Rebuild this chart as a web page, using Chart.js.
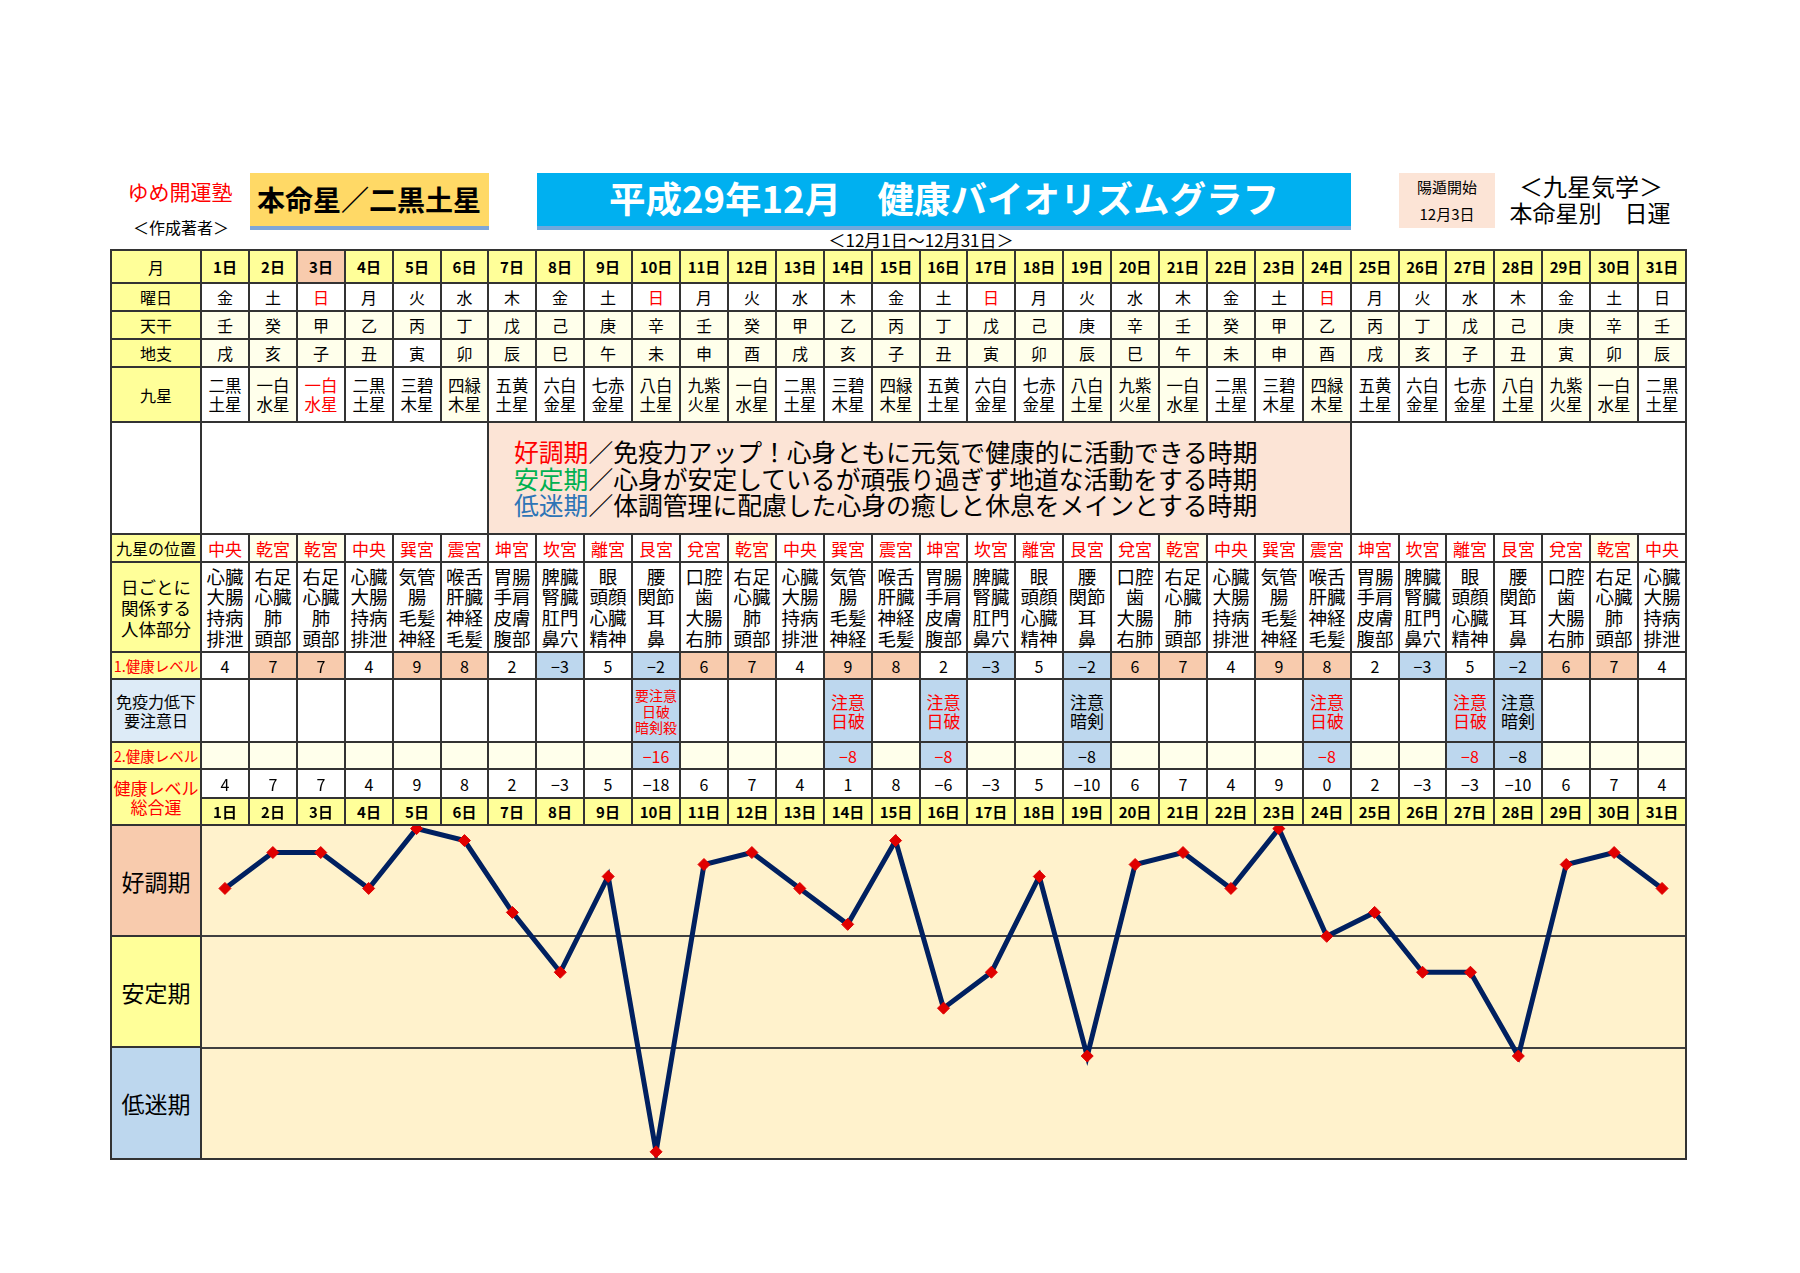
<!DOCTYPE html>
<html><head><meta charset="utf-8">
<script src="https://cdn.jsdelivr.net/npm/chart.js@4.4.1/dist/chart.umd.min.js"></script>
<style>
html,body{margin:0;padding:0;background:#fff;}
body{width:1800px;height:1273px;position:relative;overflow:hidden;font-family:"Noto Sans CJK JP","Noto Sans",sans-serif;color:#000;}
.c{position:absolute;box-sizing:border-box;border:2px solid #333;display:flex;align-items:center;justify-content:center;text-align:center;white-space:nowrap;overflow:hidden;}
.t{position:absolute;transform:translate(-50%,-50%);white-space:nowrap;line-height:1;}
.r{position:absolute;}
</style></head><body>
<canvas id="chart" width="1485" height="334" style="position:absolute;left:201px;top:825px;width:1485px;height:334px;background:#FFF2CC;"></canvas>
<script>
// ---------------- DATA ----------------
const days = ["1日","2日","3日","4日","5日","6日","7日","8日","9日","10日","11日","12日","13日","14日","15日","16日","17日","18日","19日","20日","21日","22日","23日","24日","25日","26日","27日","28日","29日","30日","31日"];
const weekdays = ["金","土","日","月","火","水","木","金","土","日","月","火","水","木","金","土","日","月","火","水","木","金","土","日","月","火","水","木","金","土","日"];
const redWeekdayDays = [3,10,17,24];
const stems = ["壬","癸","甲","乙","丙","丁","戊","己","庚","辛","壬","癸","甲","乙","丙","丁","戊","己","庚","辛","壬","癸","甲","乙","丙","丁","戊","己","庚","辛","壬"];
const branches = ["戌","亥","子","丑","寅","卯","辰","巳","午","未","申","酉","戌","亥","子","丑","寅","卯","辰","巳","午","未","申","酉","戌","亥","子","丑","寅","卯","辰"];
const stars = ["二黒土星","一白水星","一白水星","二黒土星","三碧木星","四緑木星","五黄土星","六白金星","七赤金星","八白土星","九紫火星","一白水星","二黒土星","三碧木星","四緑木星","五黄土星","六白金星","七赤金星","八白土星","九紫火星","一白水星","二黒土星","三碧木星","四緑木星","五黄土星","六白金星","七赤金星","八白土星","九紫火星","一白水星","二黒土星"];
const palaces = ["中央","乾宮","乾宮","中央","巽宮","震宮","坤宮","坎宮","離宮","艮宮","兌宮","乾宮","中央","巽宮","震宮","坤宮","坎宮","離宮","艮宮","兌宮","乾宮","中央","巽宮","震宮","坤宮","坎宮","離宮","艮宮","兌宮","乾宮","中央"];
const palaceBody = {
  "中央":["心臓","大腸","持病","排泄"],
  "乾宮":["右足","心臓","肺","頭部"],
  "巽宮":["気管","腸","毛髪","神経"],
  "震宮":["喉舌","肝臓","神経","毛髪"],
  "坤宮":["胃腸","手肩","皮膚","腹部"],
  "坎宮":["脾臓","腎臓","肛門","鼻穴"],
  "離宮":["眼","頭顔","心臓","精神"],
  "艮宮":["腰","関節","耳","鼻"],
  "兌宮":["口腔","歯","大腸","右肺"]
};
const level1 = [4,7,7,4,9,8,2,-3,5,-2,6,7,4,9,8,2,-3,5,-2,6,7,4,9,8,2,-3,5,-2,6,7,4];
const cautionText = {10:["要注意","日破","暗剣殺"],14:["注意","日破"],16:["注意","日破"],19:["注意","暗剣"],24:["注意","日破"],27:["注意","日破"],28:["注意","暗剣"]};
const cautionBlackDays = [19,28];
const level2 = [null,null,null,null,null,null,null,null,null,-16,null,null,null,-8,null,-8,null,null,-8,null,null,null,null,-8,null,null,-8,-8,null,null,null];
const total = [4,7,7,4,9,8,2,-3,5,-18,6,7,4,1,8,-6,-3,5,-10,6,7,4,9,0,2,-3,-3,-10,6,7,4];
const bandLabels = ["好調期","安定期","低迷期"];
const yTicks = [-18.6,-9.3,0,9.3];

// ---------------- LAYOUT ----------------
const X0=111, HX=201, XR=1686, CW=(XR-HX)/31;
const YEL='#FFFF99', CREAM='#FFFFEB', PEACH='#F8CBAD', LPEACH='#FCE4D6', BLUE='#BDD7EE', LBLUE='#DDEBF7', RED='#FF0000';
function el(cls, css, html){const d=document.createElement('div');d.className=cls;d.style.cssText=css;d.innerHTML=html||'';document.body.appendChild(d);return d;}
function cell(x1,y1,x2,y2,bg,html,css){
  return el('c',`left:${x1-1}px;top:${y1-1}px;width:${x2-x1+2}px;height:${y2-y1+2}px;background:${bg};`+(css||''),html);
}
function txt(cx,cy,text,css){return el('t',`left:${cx}px;top:${cy}px;`+(css||''),text);}
function colL(i){return Math.round(HX+i*CW);}
function colR(i){return Math.round(HX+(i+1)*CW);}
function fmt(v){return v<0?'−'+Math.abs(v):String(v);}
function lines(arr,fs,lh,color){return `<div style="font-size:${fs}px;line-height:${lh}px;color:${color||'#000'}">${arr.join('<br>')}</div>`;}

// ---------------- HEADER ----------------
txt(180,191,'ゆめ開運塾','font-size:21px;color:#FF0000;');
txt(181,227,'＜作成著者＞','font-size:16px;');
el('r','left:250px;top:173px;width:239px;height:53px;background:#FFD966;');
el('r','left:250px;top:226px;width:239px;height:4px;background:#7FA7D9;');
txt(369,199,'本命星／二黒土星','font-size:28px;font-weight:bold;');
el('r','left:537px;top:173px;width:814px;height:53px;background:#00B0F0;');
el('r','left:537px;top:226px;width:814px;height:4px;background:#6FA8DC;');
txt(944,198,'平成29年12月　健康バイオリズムグラフ','font-size:36.5px;font-weight:bold;color:#fff;');
txt(921,239,'＜12月1日～12月31日＞','font-size:17px;');
el('r','left:1399px;top:173px;width:96px;height:55px;background:#FCE4D6;');
txt(1447,186,'陽遁開始','font-size:15px;');
txt(1447,213,'12月3日','font-size:15px;');
txt(1591,186,'＜九星気学＞','font-size:24px;');
txt(1590,212,'本命星別　日運','font-size:23px;');

// ---------------- TABLE ----------------
const R = {month:[250,283], wd:[283,311], stem:[311,339], br:[339,367], star:[367,422], note:[422,534], pos:[534,562], body:[562,652], l1:[652,679], caut:[679,742], l2:[742,769], tot:[769,798], dl:[798,825]};
const hs='font-size:16px;';
cell(X0,R.month[0],HX,R.month[1],YEL,'月',hs);
cell(X0,R.wd[0],HX,R.wd[1],YEL,'曜日',hs);
cell(X0,R.stem[0],HX,R.stem[1],YEL,'天干',hs);
cell(X0,R.br[0],HX,R.br[1],YEL,'地支',hs);
cell(X0,R.star[0],HX,R.star[1],YEL,'九星',hs);
cell(X0,R.note[0],HX,R.note[1],'#fff','');
cell(X0,R.pos[0],HX,R.pos[1],YEL,'九星の位置','font-size:16px;');
cell(X0,R.body[0],HX,R.body[1],YEL,lines(['日ごとに','関係する','人体部分'],17.5,21));
cell(X0,R.l1[0],HX,R.l1[1],YEL,'1.健康レベル','font-size:14.5px;color:#FF0000;');
cell(X0,R.caut[0],HX,R.caut[1],LBLUE,lines(['免疫力低下','要注意日'],16,19));
cell(X0,R.l2[0],HX,R.l2[1],YEL,'2.健康レベル','font-size:14.5px;color:#FF0000;');
cell(X0,R.tot[0],HX,R.dl[1],YEL,lines(['健康レベル','総合運'],17,19,'#FF0000'));

const goodStars=['一白水星','四緑木星','八白土星','九紫火星'];
for(let i=0;i<31;i++){
  const x1=colL(i), x2=colR(i), d=i+1;
  cell(x1,R.month[0],x2,R.month[1], d===3?PEACH:YEL, days[i],'font-size:15px;font-weight:bold;');
  cell(x1,R.wd[0],x2,R.wd[1],'#fff',weekdays[i],'font-size:16px;'+(redWeekdayDays.includes(d)?'color:#FF0000;':''));
  cell(x1,R.stem[0],x2,R.stem[1], d===19?'#fff':CREAM, stems[i],'font-size:16px;');
  cell(x1,R.br[0],x2,R.br[1], d===5?'#fff':CREAM, branches[i],'font-size:16px;');
  const s=stars[i];
  cell(x1,R.star[0],x2,R.star[1], (goodStars.includes(s)&&d!==3)?CREAM:'#fff', lines([s.slice(0,2),s.slice(2)],16.5,18.5,d===3?'#FF0000':'#000'));
  cell(x1,R.pos[0],x2,R.pos[1], palaces[i]==='乾宮'?CREAM:'#fff', palaces[i],'font-size:17px;color:#FF0000;');
  cell(x1,R.body[0],x2,R.body[1],'#fff',lines(palaceBody[palaces[i]],18.5,20.7));
  const v1=level1[i];
  cell(x1,R.l1[0],x2,R.l1[1], v1>=6?PEACH:(v1<0?BLUE:'#fff'), fmt(v1),'font-size:16px;');
  const ct=cautionText[d];
  const cc=cautionBlackDays.includes(d)?'#000':'#FF0000';
  cell(x1,R.caut[0],x2,R.caut[1], ct?BLUE:'#fff', ct?(ct.length>2?lines(ct,14,16,cc):lines(ct,17,19,cc)):'');
  const v2=level2[i];
  cell(x1,R.l2[0],x2,R.l2[1], v2!==null?BLUE:CREAM, v2!==null?fmt(v2):'','font-size:16px;color:'+cc+';');
  cell(x1,R.tot[0],x2,R.tot[1],'#fff',fmt(total[i]),'font-size:16px;');
  cell(x1,R.dl[0],x2,R.dl[1],YEL,days[i],'font-size:15px;font-weight:bold;');
}
// merged note cells
cell(HX,R.note[0],colR(5),R.note[1],'#fff','');
cell(colL(24),R.note[0],XR,R.note[1],'#fff','');
const nb=cell(colL(6),R.note[0],colR(23),R.note[1],LPEACH,'','justify-content:flex-start;');
nb.innerHTML=`<div style="font-size:24.8px;line-height:26.5px;text-align:left;padding-left:${515-colL(6)-2}px;">
<span style="color:#FF0000">好調期</span>／免疫力アップ！心身ともに元気で健康的に活動できる時期<br>
<span style="color:#00B050">安定期</span>／心身が安定しているが頑張り過ぎず地道な活動をする時期<br>
<span style="color:#2E75B6">低迷期</span>／体調管理に配慮した心身の癒しと休息をメインとする時期</div>`;

// chart band labels
const bands=[[825,936,PEACH],[936,1047,YEL],[1047,1159,BLUE]];
bands.forEach((b,k)=>cell(X0,b[0],HX,b[1],b[2],bandLabels[k],'font-size:23px;'));
// chart frame
el('r','left:200px;top:824px;width:1487px;height:336px;box-sizing:border-box;border:2px solid #333;pointer-events:none;');

// ---------------- CHART ----------------
new Chart(document.getElementById('chart'),{
  type:'line',
  data:{labels:days,datasets:[{data:total,borderColor:'#002060',borderWidth:5,tension:0,fill:false,
    pointStyle:'rectRot',pointRadius:6,pointHoverRadius:6,pointBackgroundColor:'#E00000',pointBorderColor:'#E00000',pointBorderWidth:1,clip:false}]},
  options:{responsive:false,animation:false,layout:{padding:0,autoPadding:false},
    plugins:{legend:{display:false},tooltip:{enabled:false}},
    events:[],
    scales:{
      x:{type:'category',offset:true,display:false},
      y:{min:yTicks[0],max:yTicks[3],border:{display:false},ticks:{display:false},
         grid:{drawTicks:false,lineWidth:2,color:c=>(c.tick&&(c.tick.value===yTicks[1]||c.tick.value===yTicks[2]))?'#404040':'rgba(0,0,0,0)'},
         afterBuildTicks:a=>{a.ticks=yTicks.map(v=>({value:v}));}}
    }
  }
});
</script>
</body></html>
